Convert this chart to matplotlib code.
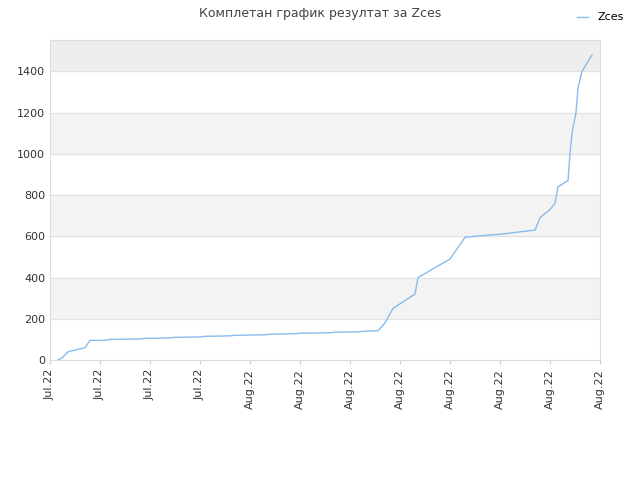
import matplotlib
matplotlib.use("Agg")
import matplotlib.pyplot as plt

tick_labels = ["Jul.22"]*4 + ["Aug.22"]*8
px = [58,62,68,75,85,90,105,110,140,145,170,175,200,205,230,235,265,270,295,300,330,335,360,365,378,385,393,415,418,450,465,475,500,535,540,550,555,558,568,570,572,576,578,582,592]
vals = [0,10,40,48,60,95,95,100,102,105,107,110,112,115,117,120,122,125,127,130,132,135,137,140,142,180,250,320,400,490,595,600,610,630,690,730,760,840,870,1000,1100,1200,1320,1400,1480]
x = [(p-50)/50 for p in px]

fig = plt.figure(figsize=(6.4,4.8), dpi=100)
ax = fig.add_axes([50/640, 120/480, 550/640, 320/480])
for lo in range(200, 1400, 400):
    ax.axhspan(lo, lo+200, color="#f3f3f3", zorder=0)
ax.axhspan(1400, 1552, color="#eeeeee", zorder=0)
for y in range(200, 1600, 200):
    ax.axhline(y, color="#e2e2e2", lw=0.8, zorder=1)
ax.plot(x, vals, color="#88bbee", lw=1, label="Zces", zorder=3)
ax.set_xlim(0, 11)
ax.set_ylim(0, 1552)
ax.set_xticks(range(12))
ax.set_xticklabels(tick_labels, rotation=90, fontsize=8, color="#333333")
ax.set_yticks(range(0, 1600, 200))
ax.tick_params(axis="y", labelsize=8, colors="#333333", length=0)
ax.tick_params(axis="x", length=3, color="#cccccc")
for s in ax.spines.values():
    s.set_color("#dddddd")
fig.suptitle("Комплетан график резултат за Zces", x=0.5, y=0.985, fontsize=9, color="#444444")
fig.legend(loc="upper right", bbox_to_anchor=(0.99, 0.995), frameon=False, fontsize=8, handlelength=1)
fig.savefig("out.png")
